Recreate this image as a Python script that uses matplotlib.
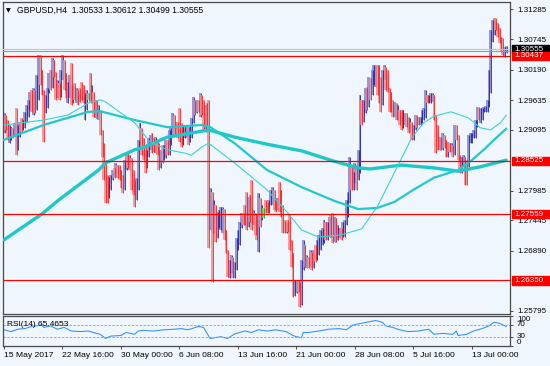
import numpy as np
import matplotlib
matplotlib.use("Agg")
import matplotlib.pyplot as plt
import matplotlib.transforms as mtransforms
from matplotlib.patches import Rectangle

plt.rcParams['font.family'] = ['Liberation Sans', 'DejaVu Sans']

# ---- GBPUSD H4 bars (15 May - 13 Jul 2017) ----
first_open = 1.2920
highs = [
    1.2940, 1.2936, 1.2927, 1.2918, 1.2914, 1.2913, 1.2922, 1.2949, 1.2918, 1.2923,
    1.2931, 1.2927, 1.2942, 1.2954, 1.2964, 1.2978, 1.2982, 1.2985, 1.2982, 1.3009,
    1.3045, 1.3045, 1.3018, 1.2982, 1.2973, 1.2985, 1.3013, 1.3018, 1.3040, 1.3036,
    1.3014, 1.3000, 1.2994, 1.3018, 1.3045, 1.3036, 1.3013, 1.2996, 1.3009, 1.3031,
    1.2991, 1.2994, 1.2985, 1.2982, 1.2985, 1.2996, 1.2991, 1.2976, 1.2982, 1.2976,
    1.3013, 1.2991, 1.2978, 1.2964, 1.2964, 1.2954, 1.2945, 1.2909, 1.2885, 1.2854,
    1.2827, 1.2823, 1.2827, 1.2836, 1.2840, 1.2849, 1.2845, 1.2845, 1.2836, 1.2827,
    1.2854, 1.2869, 1.2867, 1.2863, 1.2854, 1.2836, 1.2818, 1.2822, 1.2891, 1.2922,
    1.2909, 1.2894, 1.2882, 1.2873, 1.2894, 1.2900, 1.2903, 1.2894, 1.2896, 1.2891,
    1.2885, 1.2873, 1.2882, 1.2882, 1.2891, 1.2891, 1.2909, 1.2913, 1.2940, 1.2936,
    1.2923, 1.2923, 1.2949, 1.2922, 1.2918, 1.2914, 1.2918, 1.2913, 1.2918, 1.2931,
    1.2969, 1.2964, 1.2964, 1.2964, 1.2976, 1.2973, 1.2964, 1.2954, 1.2958, 1.2964,
    1.2803, 1.2791, 1.2782, 1.2754, 1.2760, 1.2763, 1.2769, 1.2769, 1.2758, 1.2727,
    1.2691, 1.2672, 1.2681, 1.2678, 1.2669, 1.2712, 1.2727, 1.2741, 1.2758, 1.2758,
    1.2772, 1.2796, 1.2787, 1.2791, 1.2818, 1.2763, 1.2758, 1.2754, 1.2794, 1.2782,
    1.2772, 1.2763, 1.2782, 1.2778, 1.2782, 1.2800, 1.2805, 1.2791, 1.2785, 1.2785,
    1.2814, 1.2800, 1.2772, 1.2745, 1.2741, 1.2745, 1.2754, 1.2709, 1.2685, 1.2636,
    1.2636, 1.2636, 1.2632, 1.2672, 1.2709, 1.2700, 1.2681, 1.2678, 1.2691, 1.2687,
    1.2691, 1.2700, 1.2709, 1.2718, 1.2727, 1.2731, 1.2745, 1.2741, 1.2741, 1.2751,
    1.2754, 1.2758, 1.2751, 1.2749, 1.2736, 1.2731, 1.2731, 1.2741, 1.2745, 1.2782,
    1.2796, 1.2860, 1.2845, 1.2832, 1.2849, 1.2845, 1.2873, 1.2973, 1.2964, 1.2964,
    1.2985, 1.2987, 1.3005, 1.3004, 1.3018, 1.3027, 1.3027, 1.3027, 1.3027, 1.3005,
    1.3018, 1.3027, 1.3024, 1.3018, 1.2985, 1.2978, 1.2964, 1.2960, 1.2958, 1.2954,
    1.2945, 1.2945, 1.2945, 1.2940, 1.2940, 1.2933, 1.2931, 1.2922, 1.2918, 1.2936,
    1.2936, 1.2933, 1.2933, 1.2945, 1.2949, 1.2982, 1.2973, 1.2973, 1.2976, 1.2976,
    1.2973, 1.2931, 1.2918, 1.2896, 1.2896, 1.2903, 1.2900, 1.2891, 1.2887, 1.2885,
    1.2885, 1.2882, 1.2918, 1.2918, 1.2900, 1.2863, 1.2860, 1.2863, 1.2860, 1.2854,
    1.2900, 1.2903, 1.2903, 1.2909, 1.2927, 1.2951, 1.2951, 1.2949, 1.2949, 1.2951,
    1.2953, 1.2964, 1.3018, 1.3091, 1.3109, 1.3113, 1.3113, 1.3104, 1.3095, 1.3078,
    1.3076, 1.3060, 1.30612,
]
lows = [
    1.2903, 1.2909, 1.2891, 1.2885, 1.2891, 1.2894, 1.2900, 1.2863, 1.2873, 1.2896,
    1.2905, 1.2909, 1.2913, 1.2923, 1.2933, 1.2945, 1.2942, 1.2936, 1.2940, 1.2945,
    1.2964, 1.2991, 1.2973, 1.2887, 1.2940, 1.2949, 1.2976, 1.2982, 1.2985, 1.3005,
    1.2964, 1.2967, 1.2964, 1.2969, 1.3000, 1.2982, 1.2967, 1.2958, 1.2967, 1.2954,
    1.2958, 1.2964, 1.2958, 1.2954, 1.2960, 1.2964, 1.2958, 1.2927, 1.2945, 1.2964,
    1.2958, 1.2958, 1.2933, 1.2931, 1.2931, 1.2927, 1.2900, 1.2860, 1.2818, 1.2776,
    1.2776, 1.2785, 1.2800, 1.2818, 1.2822, 1.2823, 1.2822, 1.2818, 1.2803, 1.2794,
    1.2800, 1.2836, 1.2840, 1.2836, 1.2800, 1.2791, 1.2769, 1.2782, 1.2800, 1.2873,
    1.2863, 1.2854, 1.2831, 1.2840, 1.2860, 1.2873, 1.2867, 1.2869, 1.2867, 1.2863,
    1.2836, 1.2840, 1.2849, 1.2854, 1.2858, 1.2863, 1.2863, 1.2882, 1.2900, 1.2900,
    1.2900, 1.2894, 1.2887, 1.2878, 1.2882, 1.2894, 1.2894, 1.2882, 1.2887, 1.2894,
    1.2922, 1.2936, 1.2940, 1.2942, 1.2933, 1.2936, 1.2909, 1.2905, 1.2918, 1.2694,
    1.2727, 1.2632, 1.2721, 1.2705, 1.2712, 1.2731, 1.2727, 1.2721, 1.2709, 1.2685,
    1.2641, 1.2640, 1.2649, 1.2640, 1.2640, 1.2658, 1.2691, 1.2700, 1.2731, 1.2736,
    1.2736, 1.2727, 1.2732, 1.2741, 1.2727, 1.2741, 1.2718, 1.2709, 1.2687, 1.2732,
    1.2745, 1.2749, 1.2758, 1.2758, 1.2758, 1.2772, 1.2772, 1.2763, 1.2760, 1.2763,
    1.2760, 1.2751, 1.2721, 1.2721, 1.2721, 1.2723, 1.2691, 1.2660, 1.2605, 1.2607,
    1.2612, 1.2614, 1.2587, 1.2590, 1.2654, 1.2660, 1.2658, 1.2658, 1.2660, 1.2654,
    1.2658, 1.2669, 1.2672, 1.2681, 1.2691, 1.2700, 1.2703, 1.2709, 1.2709, 1.2714,
    1.2714, 1.2703, 1.2705, 1.2705, 1.2709, 1.2712, 1.2709, 1.2714, 1.2714, 1.2736,
    1.2751, 1.2776, 1.2800, 1.2800, 1.2812, 1.2800, 1.2818, 1.2831, 1.2918, 1.2923,
    1.2940, 1.2945, 1.2951, 1.2964, 1.2976, 1.2991, 1.2987, 1.2973, 1.2958, 1.2942,
    1.2964, 1.3000, 1.2982, 1.2978, 1.2942, 1.2942, 1.2933, 1.2933, 1.2927, 1.2927,
    1.2918, 1.2909, 1.2913, 1.2918, 1.2914, 1.2903, 1.2905, 1.2891, 1.2891, 1.2909,
    1.2913, 1.2918, 1.2918, 1.2922, 1.2927, 1.2931, 1.2958, 1.2958, 1.2958, 1.2960,
    1.2927, 1.2867, 1.2873, 1.2873, 1.2873, 1.2873, 1.2876, 1.2860, 1.2860, 1.2869,
    1.2869, 1.2860, 1.2863, 1.2891, 1.2854, 1.2831, 1.2831, 1.2842, 1.2809, 1.2809,
    1.2842, 1.2885, 1.2885, 1.2894, 1.2894, 1.2914, 1.2927, 1.2922, 1.2927, 1.2942,
    1.2942, 1.2942, 1.2951, 1.2976, 1.3069, 1.3082, 1.3091, 1.3078, 1.3067, 1.3051,
    1.3045, 1.3042, 1.30499,
]
closes = [
    1.2933, 1.2918, 1.2896, 1.2909, 1.2913, 1.2903, 1.2916, 1.2873, 1.2913, 1.2920,
    1.2913, 1.2923, 1.2938, 1.2945, 1.2960, 1.2973, 1.2949, 1.2978, 1.2945, 1.3000,
    1.3036, 1.3000, 1.2978, 1.2954, 1.2967, 1.2982, 1.3007, 1.2985, 1.3033, 1.3014,
    1.2973, 1.2982, 1.2969, 1.3009, 1.3036, 1.2991, 1.2976, 1.2985, 1.3004, 1.2964,
    1.2982, 1.2969, 1.2978, 1.2976, 1.2973, 1.2969, 1.2964, 1.2967, 1.2973, 1.2973,
    1.2964, 1.2978, 1.2940, 1.2956, 1.2936, 1.2945, 1.2909, 1.2873, 1.2827, 1.2791,
    1.2785, 1.2818, 1.2822, 1.2832, 1.2827, 1.2843, 1.2827, 1.2823, 1.2809, 1.2800,
    1.2845, 1.2863, 1.2845, 1.2858, 1.2809, 1.2796, 1.2782, 1.2803, 1.2882, 1.2913,
    1.2873, 1.2863, 1.2840, 1.2869, 1.2887, 1.2891, 1.2876, 1.2873, 1.2891, 1.2882,
    1.2845, 1.2863, 1.2854, 1.2876, 1.2885, 1.2873, 1.2903, 1.2909, 1.2933, 1.2909,
    1.2918, 1.2902, 1.2894, 1.2891, 1.2909, 1.2911, 1.2914, 1.2900, 1.2913, 1.2923,
    1.2960, 1.2949, 1.2958, 1.2953, 1.2971, 1.2945, 1.2918, 1.2949, 1.2945, 1.2727,
    1.2796, 1.2754, 1.2772, 1.2745, 1.2754, 1.2760, 1.2763, 1.2765, 1.2718, 1.2691,
    1.2654, 1.2663, 1.2676, 1.2645, 1.2654, 1.2705, 1.2718, 1.2736, 1.2752, 1.2745,
    1.2741, 1.2736, 1.2782, 1.2772, 1.2736, 1.2749, 1.2727, 1.2718, 1.2785, 1.2763,
    1.2767, 1.2767, 1.2763, 1.2761, 1.2772, 1.2794, 1.2800, 1.2782, 1.2778, 1.2782,
    1.2772, 1.2760, 1.2731, 1.2727, 1.2732, 1.2727, 1.2700, 1.2669, 1.2618, 1.2627,
    1.2630, 1.2623, 1.2596, 1.2663, 1.2700, 1.2669, 1.2676, 1.2663, 1.2681, 1.2663,
    1.2685, 1.2678, 1.2703, 1.2709, 1.2718, 1.2723, 1.2736, 1.2718, 1.2734, 1.2741,
    1.2723, 1.2709, 1.2727, 1.2712, 1.2718, 1.2723, 1.2716, 1.2736, 1.2741, 1.2772,
    1.2791, 1.2832, 1.2809, 1.2827, 1.2836, 1.2818, 1.2863, 1.2960, 1.2936, 1.2954,
    1.2978, 1.2954, 1.2996, 1.2973, 1.3009, 1.3018, 1.3024, 1.2982, 1.2967, 1.2954,
    1.3014, 1.3018, 1.2991, 1.2985, 1.2954, 1.2949, 1.2942, 1.2953, 1.2936, 1.2945,
    1.2938, 1.2918, 1.2931, 1.2936, 1.2933, 1.2913, 1.2923, 1.2900, 1.2909, 1.2931,
    1.2927, 1.2923, 1.2927, 1.2940, 1.2945, 1.2973, 1.2964, 1.2967, 1.2971, 1.2973,
    1.2936, 1.2882, 1.2878, 1.2891, 1.2882, 1.2896, 1.2891, 1.2869, 1.2882, 1.2878,
    1.2882, 1.2867, 1.2909, 1.2896, 1.2860, 1.2840, 1.2854, 1.2858, 1.2851, 1.2845,
    1.2891, 1.2898, 1.2900, 1.2907, 1.2922, 1.2945, 1.2933, 1.2942, 1.2945, 1.2949,
    1.2951, 1.2960, 1.3009, 1.3082, 1.3100, 1.3109, 1.3096, 1.3087, 1.3073, 1.3058,
    1.3051, 1.30533, 1.30555,
]

# moving averages (bar index, value)
ma_fast_idx = [0, 23, 37, 49, 56, 59, 76, 85, 95, 105, 109, 115, 119, 134, 153, 165,
               173, 183, 196, 208, 217, 227, 237, 244, 250, 260, 270, 277, 283, 289, 292]
ma_fast = [1.2918, 1.2927, 1.2936, 1.2958, 1.2964, 1.2960, 1.2922, 1.2887, 1.2873, 1.2867,
           1.2863, 1.2878, 1.2885, 1.2849, 1.2800, 1.2758, 1.2727, 1.2714, 1.2718, 1.2729,
           1.2769, 1.2831, 1.2894, 1.2922, 1.2934, 1.2942, 1.2931, 1.2913, 1.2909, 1.2923, 1.2936]
ma_mid_idx = [0, 23, 37, 49, 56, 76, 95, 115, 120, 134, 153, 173, 192, 206, 217, 227,
              238, 250, 264, 272, 279, 286, 292]
ma_mid = [1.2891, 1.2918, 1.2931, 1.2942, 1.2943, 1.2927, 1.2914, 1.2918, 1.2914, 1.2885,
          1.2836, 1.2805, 1.2780, 1.2765, 1.2767, 1.2778, 1.2800, 1.2822, 1.2836, 1.2854,
          1.2873, 1.2894, 1.2911]
ma_slow_idx = [0, 22, 32, 55, 59, 76, 80, 95, 99, 119, 134, 153, 173, 192, 206, 213,
               231, 250, 264, 277, 292]
ma_slow = [1.2709, 1.2756, 1.2782, 1.2836, 1.2849, 1.2873, 1.2876, 1.2896, 1.2898, 1.2909,
           1.2896, 1.2883, 1.2871, 1.2852, 1.2840, 1.2838, 1.2845, 1.2840, 1.2834, 1.2842, 1.2854]

# horizontal levels
levels = [1.30437, 1.28525, 1.27559, 1.26350]
bid = 1.30555

# RSI(14)
rsi_idx = [0, 4, 8, 12, 16, 20, 22, 23, 27, 31, 35, 39, 45, 49, 52, 56, 59, 62, 68, 71,
           76, 78, 81, 87, 93, 99, 103, 107, 113, 116, 119, 120, 126, 130, 134, 140, 144,
           148, 153, 158, 164, 168, 170, 173, 174, 177, 183, 189, 195, 199, 203, 209, 216,
           220, 222, 226, 230, 235, 241, 247, 250, 255, 261, 263, 264, 269, 273, 278, 282,
           285, 288, 292]
rsi = [54, 48, 56, 58, 65, 68, 72, 62, 67, 56, 62, 50, 48, 50, 45, 39, 25, 33, 35, 45,
       39, 50, 52, 50, 54, 56, 58, 54, 65, 62, 33, 25, 31, 25, 40, 50, 45,
       54, 50, 54, 48, 35, 31, 28, 45, 45, 50, 56, 58, 54, 70, 77, 85,
       79, 67, 62, 54, 48, 50, 56, 39, 42, 39, 50, 35, 39, 50, 58, 67,
       79, 76, 65.4653]

date_idx = [0, 34, 68, 102, 136, 170, 204, 238, 272]
date_labels = ["15 May 2017", "22 May 16:00", "30 May 00:00", "6 Jun 08:00", "13 Jun 16:00",
               "21 Jun 00:00", "28 Jun 08:00", "5 Jul 16:00", "13 Jul 00:00"]
# scale marks that are not covered by a level tag
price_ticks = [1.31285, 1.30745, 1.30190, 1.29635, 1.29095, 1.27985, 1.27445,
               1.26890, 1.25795]

bg = "#eff6fd"
frame = "#4a4a4a"
W, H = 550, 366


def box(x0, y0, x1, y1):
    return [x0 / W, 1 - y1 / H, (x1 - x0) / W, (y1 - y0) / H]


fig = plt.figure(figsize=(5.5, 3.66), dpi=100)
fig.patch.set_facecolor(bg)
ax = fig.add_axes(box(3, 2, 510, 313.5))
rax = fig.add_axes(box(3, 316, 510, 346))

for a in (ax, rax):
    a.set_facecolor(bg)
    a.set_xlim(-0.6, 294.25)
    for s in a.spines.values():
        s.set_color(frame)
        s.set_linewidth(0.9)

# bars
o = np.array([first_open] + closes[:-1])
h = np.array(highs)
l = np.array(lows)
c = np.array(closes)
x = np.arange(len(c))
top = np.maximum(h, np.maximum(o, c))
bot = np.minimum(l, np.minimum(o, c))
groups = [(c > o, "#8585d4", "#22229a"), (c < o, "#f68a8a", "#ff1c1c"), (c == o, "#70d870", "#00b400")]
for mask, light, dark in groups:
    ax.vlines(x[mask] - 0.2, bot[mask], top[mask], color=light, lw=1.2, zorder=2)
    ax.vlines(x[mask] + 0.3, bot[mask], top[mask], color=dark, lw=0.6, zorder=2)

ax.plot(ma_slow_idx, ma_slow, color="#1ec8c8", lw=2.4, zorder=3, solid_capstyle="round")
ax.plot(ma_mid_idx, ma_mid, color="#22c8cc", lw=1.6, zorder=3)
ax.plot(ma_fast_idx, ma_fast, color="#3cd2d8", lw=0.8, zorder=3)

ax.axhline(bid + 0.00015, color="#c4c4c4", lw=0.8, zorder=4)
ax.axhline(bid - 0.0002, color="#9a9a9a", lw=0.8, zorder=4)
for v in levels:
    ax.axhline(v, color="#ff0000", lw=0.9, zorder=4)

ax.set_ylim(1.25749, 1.31419)
ax.set_xticks([])
ax.yaxis.tick_right()
ax.set_yticks(price_ticks)
ax.set_yticklabels(["%.5f" % v for v in price_ticks])
ax.tick_params(axis="y", direction="out", length=2.5, width=0.7, pad=2.5,
               labelsize=5.8, color=frame)

# price tags on the right scale
tr = mtransforms.blended_transform_factory(ax.transAxes, ax.transData)
hh = 0.00078
tags = [(bid, "#000000")] + [(v, "#ff0000") for v in levels]
for v, col in tags:
    ax.add_patch(Rectangle((1.004, v - hh), 0.08, 2 * hh, transform=tr, color=col,
                           clip_on=False, zorder=10))
    ax.text(1.0095, v, "%.5f" % v, transform=tr, color="white", fontsize=5.8,
            va="center", ha="left", zorder=11, clip_on=False)

# RSI panel
rax.plot(rsi_idx, rsi, color="#2f8fff", lw=0.75)
for lv in (30, 70):
    rax.axhline(lv, color="#a8a8a8", lw=0.7, ls=(0, (2.5, 1.5)))
rax.set_ylim(0, 100)
rax.yaxis.tick_right()
rax.set_yticks([0, 30, 70, 100])
rax.set_yticklabels(["0", "30", "70", "100"])
rax.tick_params(axis="y", direction="out", length=2.5, width=0.7, pad=2.5,
                labelsize=5.8, color=frame)
for lab, va in zip(rax.get_yticklabels(), ["bottom", "center", "center", "top"]):
    lab.set_va(va)
rax.set_xticks(date_idx)
rax.set_xticklabels(date_labels)
rax.tick_params(axis="x", direction="out", length=2.5, width=0.7, pad=2,
                labelsize=6.1, color=frame)
for lab in rax.get_xticklabels():
    lab.set_ha("left")
rax.text(0.008, 0.72, "RSI(14) %.4f" % rsi[-1], transform=rax.transAxes,
         fontsize=6, va="center", ha="left")

# header
fig.text(6 / W, 1 - 10.5 / H, "\u25bc", fontsize=4.5, va="center", ha="left",
         family=["DejaVu Sans"])
fig.text(17 / W, 1 - 10.5 / H,
         "GBPUSD,H4  %.5f %.5f %.5f %.5f" % (o[-1], h[-1], l[-1], c[-1]),
         fontsize=6.2, va="center", ha="left")

plt.savefig("out.png", dpi=100, facecolor=bg)
